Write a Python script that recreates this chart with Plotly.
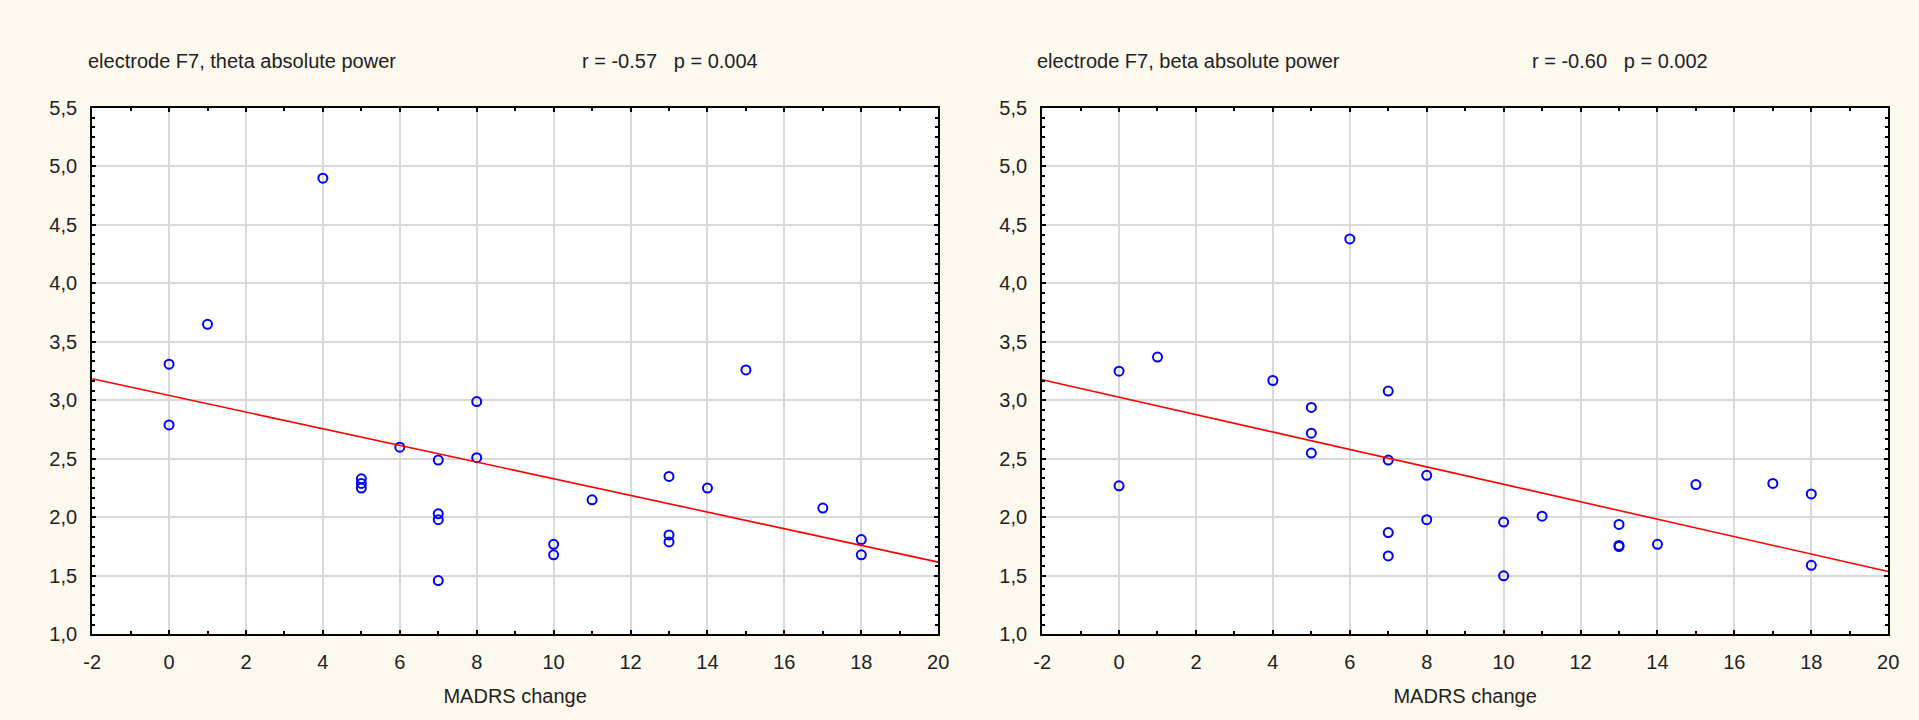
import numpy as np
import plotly.graph_objects as go
from plotly.subplots import make_subplots

# MADRS change vs absolute power, electrode F7
theta_x = [0, 0, 1, 4, 5, 5, 5, 6, 7, 7, 7, 7, 8, 8, 10, 10, 11, 13, 13, 13, 14, 15, 17, 18, 18]
theta_y = [3.31, 2.79, 3.65, 4.90, 2.33, 2.29, 2.25, 2.60, 2.49, 2.03, 1.98, 1.46, 2.99, 2.51,
           1.77, 1.68, 2.15, 2.35, 1.85, 1.79, 2.25, 3.26, 2.08, 1.81, 1.68]

beta_x = [0, 0, 1, 4, 5, 5, 5, 6, 7, 7, 7, 7, 8, 8, 10, 10, 11, 13, 13, 13, 14, 15, 17, 18, 18]
beta_y = [3.25, 2.27, 3.37, 3.17, 2.94, 2.72, 2.55, 4.38, 3.08, 2.49, 1.87, 1.67, 2.36, 1.98,
          1.96, 1.50, 2.01, 1.94, 1.76, 1.75, 1.77, 2.28, 2.29, 2.20, 1.59]

titles = ["electrode F7, theta absolute power", "electrode F7, beta absolute power"]
stats = ["r = -0.57   p = 0.004", "r = -0.60   p = 0.002"]

x_ticks = [-2, 0, 2, 4, 6, 8, 10, 12, 14, 16, 18, 20]
x_labels = ["-2", "0", "2", "4", "6", "8", "10", "12", "14", "16", "18", "20"]
y_ticks = [1.0, 1.5, 2.0, 2.5, 3.0, 3.5, 4.0, 4.5, 5.0, 5.5]
y_labels = ["1,0", "1,5", "2,0", "2,5", "3,0", "3,5", "4,0", "4,5", "5,0", "5,5"]

x_range = [-2, 20]
y_range = [1.0, 5.5]

W, H = 1919, 720
BG = "#fef9ee"
TXT = "#222222"
FONT = "Liberation Sans, Arial, sans-serif"
FS = 20

fig = make_subplots(rows=1, cols=2)

for i, (xs, ys) in enumerate([(theta_x, theta_y), (beta_x, beta_y)]):
    col = i + 1
    fig.add_trace(go.Scatter(
        x=xs, y=ys, mode="markers",
        marker=dict(symbol="circle-open", size=9, color="#0000ff", line=dict(width=2)),
        showlegend=False,
    ), row=1, col=col)

    # least squares line across the whole x range
    slope, icpt = np.polyfit(xs, ys, 1)
    lx = np.array(x_range, dtype=float)
    fig.add_trace(go.Scatter(
        x=lx, y=slope * lx + icpt, mode="lines",
        line=dict(color="#ff0000", width=1.6),
        showlegend=False,
    ), row=1, col=col)

axis_common = dict(
    showline=True, linecolor="black", linewidth=2, mirror="allticks",
    ticks="inside", ticklen=4, tickcolor="black", tickwidth=1.5,
    showgrid=True, gridcolor="#d9d9d9", gridwidth=1.5,
    zeroline=False,
    tickfont=dict(family=FONT, size=FS, color=TXT),
)

dom_x = [(84 / W, 939 / W), (1044 / W, 1899 / W)]
dom_y = ((720 - 643) / H, (720 - 100) / H)

for i in range(2):
    col = i + 1
    fig.update_xaxes(
        range=x_range, tickvals=x_ticks, ticktext=x_labels, domain=list(dom_x[i]),
        ticklabelstandoff=9,
        minor=dict(dtick=1, tick0=0, ticks="inside", ticklen=3, tickcolor="black", showgrid=False),
        title=dict(text="MADRS change", font=dict(family=FONT, size=FS, color=TXT), standoff=17),
        row=1, col=col, **axis_common,
    )
    fig.update_yaxes(
        range=y_range, tickvals=y_ticks, ticktext=y_labels, domain=list(dom_y),
        ticklabelstandoff=9,
        minor=dict(dtick=0.5 / 6, tick0=1.0, ticks="inside", ticklen=3, tickcolor="black", showgrid=False),
        row=1, col=col, **axis_common,
    )
    fig.add_annotation(
        text=titles[i], xref="paper", yref="paper",
        x=(78 if i == 0 else 1037) / W, y=(H - 52) / H,
        xanchor="left", yanchor="middle", showarrow=False,
        font=dict(family=FONT, size=FS, color=TXT),
    )
    fig.add_annotation(
        text=stats[i].replace("   ", "&nbsp;&nbsp;&nbsp;"), xref="paper", yref="paper",
        x=(577 if i == 0 else 1537) / W, y=(H - 52) / H,
        xanchor="left", yanchor="middle", showarrow=False,
        font=dict(family=FONT, size=FS, color=TXT),
    )

fig.update_layout(
    width=W, height=H, autosize=False,
    margin=dict(l=0, r=0, t=0, b=0),
    paper_bgcolor=BG, plot_bgcolor="white",
    font=dict(family=FONT, color=TXT),
)

# drop the default page margin so the figure sits at the window origin
fig.write_html("out.html", config={"displayModeBar": False},
               post_script="document.body.style.margin='0';")
